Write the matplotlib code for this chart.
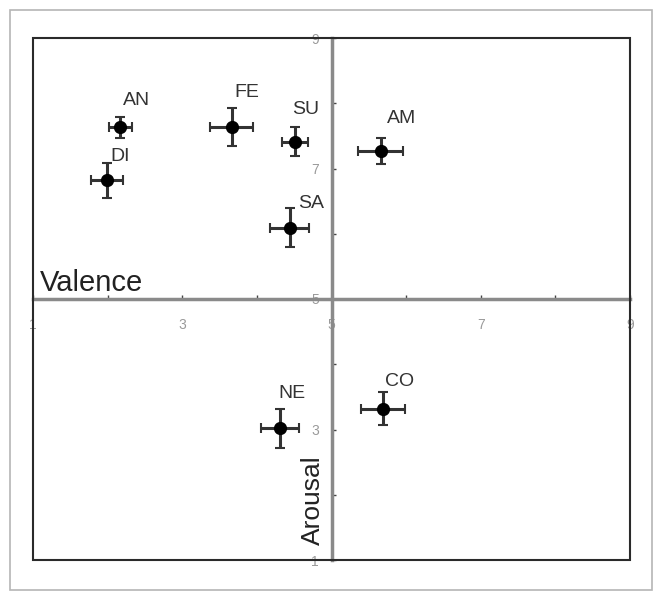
import matplotlib.pyplot as plt
from matplotlib.patches import Rectangle
from matplotlib.ticker import MultipleLocator, FuncFormatter

# 情绪类别 (arousal on x, valence on y)
labels = ["AN", "DI", "FE", "SU", "AM", "SA", "NE", "CO"]
arousal = [2.17, 1.99, 3.66, 4.51, 5.66, 4.44, 4.31, 5.69]
valence = [7.63, 6.82, 7.64, 7.41, 7.27, 6.09, 3.02, 3.32]
arousal_err = [0.15, 0.21, 0.29, 0.17, 0.30, 0.26, 0.26, 0.29]
valence_err = [0.16, 0.27, 0.29, 0.22, 0.20, 0.30, 0.30, 0.25]
# label offsets in pixels
offsets = [(16, 27), (13, 24), (15, 34), (11, 32), (21, 32), (21, 24), (12, 35), (17, 27)]

fig = plt.figure(figsize=(6.61, 5.98), dpi=100)
plt.rcParams['font.family'] = ['Liberation Sans', 'DejaVu Sans']

# outer light border
fig.patches.append(Rectangle((10 / 661, 8 / 598), 642 / 661, 580 / 598, transform=fig.transFigure,
                             fill=False, ec='#b5b5b5', lw=1.2))

ax = fig.add_axes([33 / 661, 38 / 598, 597 / 661, 522 / 598])
ax.set_xlim(1, 9)
ax.set_ylim(1, 9)

ax.spines['left'].set_position(('data', 5))
ax.spines['bottom'].set_position(('data', 5))
ax.spines['top'].set_visible(False)
ax.spines['right'].set_visible(False)
for s in ['left', 'bottom']:
    ax.spines[s].set_color('#8a8a8a')
    ax.spines[s].set_linewidth(2.5)
ax.add_patch(Rectangle((0, 0), 1, 1, transform=ax.transAxes, fill=False, ec='#2a2a2a', lw=1.5,
                       clip_on=False, zorder=5))

ax.xaxis.set_major_locator(MultipleLocator(1))
ax.yaxis.set_major_locator(MultipleLocator(1))
odd = FuncFormatter(lambda v, p: "%d" % v if int(round(v)) % 2 == 1 else "")
ax.xaxis.set_major_formatter(odd)
ax.yaxis.set_major_formatter(odd)
ax.tick_params(axis='x', direction='in', length=3, width=1, color='#444444', pad=14,
               labelsize=10, labelcolor='#9a9a9a')
ax.tick_params(axis='y', direction='in', length=3, width=1, color='#444444', pad=9,
               labelsize=10, labelcolor='#9a9a9a')

ax.errorbar(arousal, valence, xerr=arousal_err, yerr=valence_err, fmt='o', color='black',
            ms=8.5, ecolor='#333333', elinewidth=2.2, capsize=3.5, capthick=1.5, zorder=6)
for lab, x, y, off in zip(labels, arousal, valence, offsets):
    ax.annotate(lab, (x, y), xytext=off, textcoords='offset pixels', fontsize=14,
                color='#333333', ha='center', va='center')

ax.text(40 / 661, 1 - 283 / 598, "Valence", transform=fig.transFigure, fontsize=21,
        color='#222222', ha='left', va='center')
ax.text(313 / 661, 1 - 500 / 598, "Arousal", transform=fig.transFigure, fontsize=19,
        color='#222222', ha='center', va='center', rotation=90)

plt.savefig("out.png", dpi=100)
